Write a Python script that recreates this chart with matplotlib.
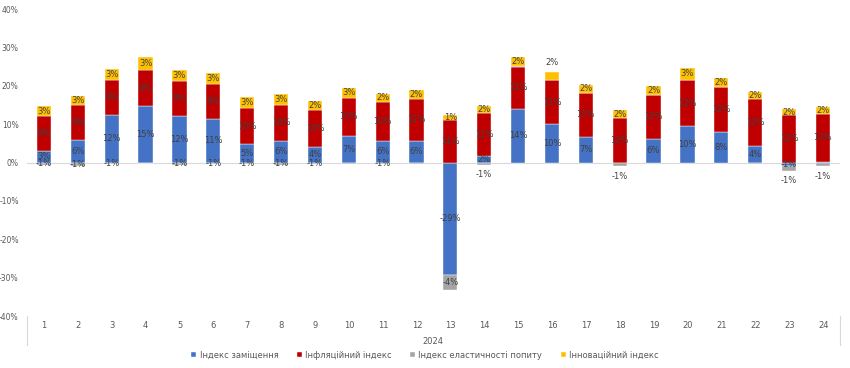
import matplotlib.pyplot as plt
import numpy as np

# months of 2024
months = [str(i) for i in range(1, 25)]
year_label = "2024"

series_names = ["Індекс заміщення", "Інфляційний індекс",
                "Індекс еластичності попиту", "Інноваційний індекс"]
colors = ["#4472C4", "#C00000", "#A5A5A5", "#FFC000"]

# values in %
zamishch = [2.9, 5.9, 12.4, 14.6, 12.2, 11.3, 4.7, 5.5, 4.0, 7.0, 5.5, 5.7,
            -29.3, 1.6, 14.0, 10.1, 6.7, 0.0, 6.2, 9.6, 7.9, 4.4, -1.0, 0.1]
infl = [9.1, 9.0, 9.0, 9.4, 9.1, 9.1, 9.5, 9.6, 9.8, 9.9, 10.3, 10.9,
        11.1, 11.3, 10.9, 11.3, 11.4, 11.5, 11.5, 11.8, 11.9, 12.1, 12.3, 12.6]
elast = [-0.6, -0.8, -0.5, -0.2, -0.6, -0.5, -0.5, -0.6, -0.5, -0.3, -0.5, -0.3,
         -3.8, -0.6, 0.2, 0.2, 0.0, -1.0, 0.0, 0.2, 0.0, -0.3, -1.2, -1.0]
innov = [2.6, 2.5, 2.9, 3.4, 2.9, 2.9, 3.0, 2.7, 2.1, 2.5, 2.1, 2.4,
         1.4, 1.9, 2.4, 2.1, 2.2, 2.1, 2.2, 3.0, 2.3, 1.8, 1.6, 1.7]

data = [zamishch, infl, elast, innov]

# gray labels that were moved below the bar, yellow label moved above
below = {13, 17, 22, 23}
above = {15}

x = np.arange(1, 25)
w = 0.42
lab_col = "#404040"


def pct(v):
    r = int(np.floor(abs(v) + 0.5))
    return ("-%d%%" % r) if v < 0 else ("%d%%" % r)


fig = plt.figure(figsize=(8.5, 3.68), dpi=100)
ax = fig.add_axes([0.0318, 0.1413, 0.9562, 0.8342])

pos_base = np.zeros(24)
neg_base = np.zeros(24)
for k, vals in enumerate(data):
    vals = np.array(vals)
    bottoms = np.where(vals >= 0, pos_base, neg_base)
    ax.bar(x, vals, w, bottom=bottoms, color=colors[k], label=series_names[k],
           edgecolor="white", linewidth=0.3, zorder=3)
    for i, v in enumerate(vals):
        if abs(v) < 0.45:
            continue
        txt = pct(v)
        if k == 2 and i in below:
            yy = bottoms[i] + v - 2.6
        elif k == 3 and i in above:
            yy = bottoms[i] + v + 2.3
        else:
            yy = bottoms[i] + v / 2
        ax.text(x[i], yy, txt, ha="center", va="center",
                fontsize=6, color=lab_col, zorder=4)
    pos_base = pos_base + np.where(vals >= 0, vals, 0)
    neg_base = neg_base + np.where(vals < 0, vals, 0)

ax.axhline(0, color="#D9D9D9", linewidth=0.8, zorder=2)
ax.set_xlim(0.5, 24.5)
ax.set_ylim(-40, 40)
ax.set_yticks(range(-40, 41, 10))
ax.set_yticklabels(["%d%%" % t for t in range(-40, 41, 10)])
ax.tick_params(axis="y", length=0, labelsize=5.5, colors="#595959", pad=6)
ax.set_xticks([])
for s in ax.spines.values():
    s.set_visible(False)

# category axis under plot
for i, m in enumerate(months):
    fig.text((27 + 33.9 * (i + 0.5)) / 850, 1 - 326 / 368, m, ha="center",
             va="center", fontsize=6, color="#595959")
fig.text(433 / 850, 1 - 341 / 368, year_label, ha="center", va="center",
         fontsize=6, color="#595959")
for xp in (27, 840):
    fig.add_artist(plt.Line2D([xp / 850, xp / 850], [1 - 316 / 368, 1 - 345 / 368],
                              color="#D9D9D9", linewidth=0.8))

fig.legend(loc="center", bbox_to_anchor=(0.5, 1 - 355 / 368), ncol=4,
           frameon=False, fontsize=6, handlelength=0.6, handleheight=0.6,
           columnspacing=2.2, handletextpad=0.4, labelcolor="#595959")

fig.savefig("out.png", dpi=100)
